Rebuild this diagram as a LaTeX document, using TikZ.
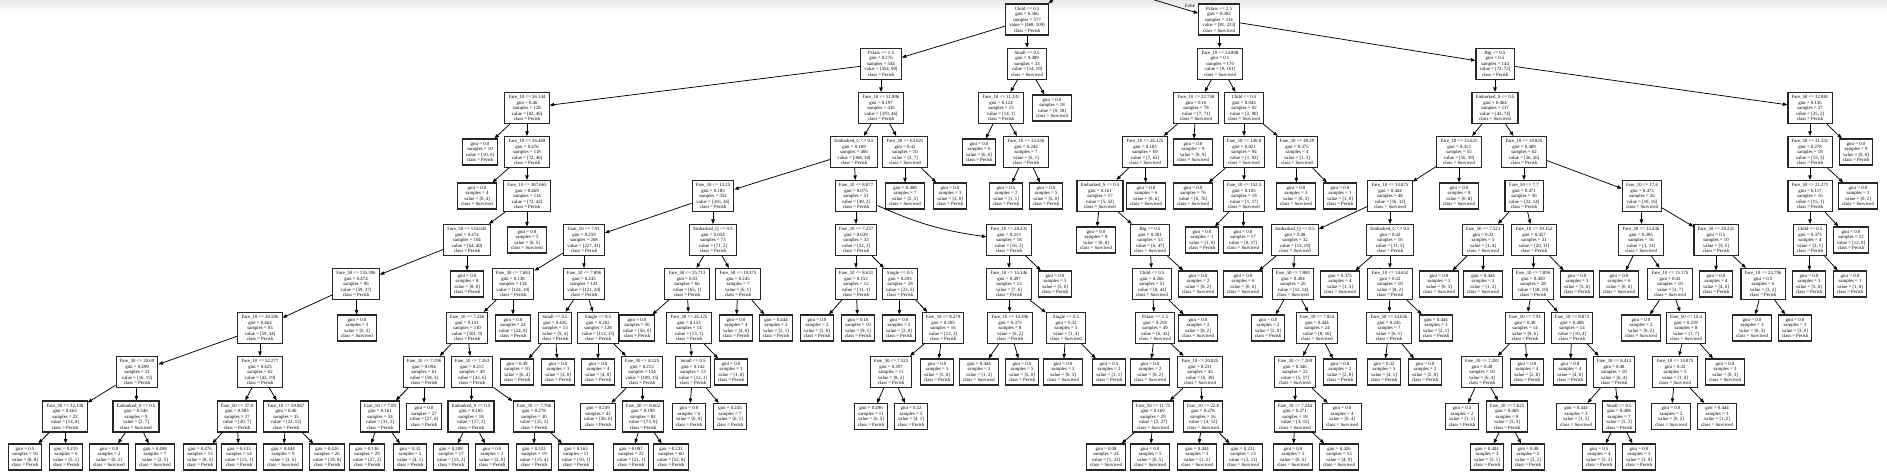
\documentclass[tikz,border=0pt]{standalone}
\usepackage{fontspec}
\setmainfont{Liberation Serif}
\usetikzlibrary{arrows.meta}
\newcommand{\tfont}{\fontsize{4.8}{5.5}\selectfont}
\newcommand{\tnode}[8]{\node[tn] (#1) at (#2,#3) {#4\\gini = #5\\samples = #6\\value = [#7]\\class = #8};}
\newcommand{\tleaf}[7]{\node[tl] (#1) at (#2,#3) {gini = #4\\samples = #5\\value = [#6]\\class = #7};}
\tikzset{
  tn/.style={draw=black!85, line width=1.1pt, fill=white, align=center, inner xsep=3.7pt, inner ysep=1.5pt, font=\tfont, minimum height=31pt},
  tl/.style={tn, minimum height=26pt},
  ed/.style={line width=0.75pt, -{Triangle[length=4.5pt,width=3.4pt]}},
  lbl/.style={font=\tfont, inner sep=0pt}
}
\begin{document}
\begin{tikzpicture}[x=1pt,y=-1pt]
\useasboundingbox (0,0) rectangle (1887,475);
\clip (0,0) rectangle (1887,475);
\fill[white] (0,0) rectangle (1887,475);
\shade[top color=black!9, bottom color=white] (0,0) rectangle (1887,12);
\coordinate (root) at (1082,-22);
% row 0
\tnode{A}{1027}{19.5}{Child <= 0.5}{0.306}{577}{468, 109}{Perish}
\tnode{B}{1219}{19.5}{Pclass <= 2.5}{0.383}{314}{81, 233}{Survived}
% row 1
\tnode{A1}{881}{63.7}{Pclass <= 1.5}{0.276}{544}{454, 90}{Perish}
\tnode{S1}{1027}{63.7}{Small <= 0.5}{0.489}{33}{14, 19}{Survived}
\tnode{F1}{1220}{63.7}{Fare\_10 <= 24.808}{0.1}{170}{9, 161}{Survived}
\tnode{G1}{1495}{63.7}{Big <= 0.5}{0.5}{144}{72, 72}{Perish}
% row 2
\tnode{na}{527}{108}{Fare\_10 <= 26.144}{0.46}{128}{82, 46}{Perish}
\tnode{c2a}{881}{108}{Fare\_10 <= 51.896}{0.197}{416}{370, 46}{Perish}
\tnode{c2b}{1001}{108}{Fare\_10 <= 31.331}{0.124}{15}{14, 1}{Perish}
\tleaf{l2a}{1052}{108}{0.0}{18}{0, 18}{Survived}
\tnode{c2c}{1196}{108}{Fare\_10 <= 22.758}{0.16}{78}{7, 71}{Survived}
\tnode{c2d}{1244}{108}{Child <= 0.5}{0.043}{92}{2, 90}{Survived}
\tnode{c2e}{1495}{108}{Embarked\_S <= 0.5}{0.464}{117}{43, 74}{Survived}
\tnode{c2f}{1810}{108}{Fare\_50 <= 32.881}{0.136}{27}{25, 2}{Perish}
% row 3
\tleaf{l3a}{480}{152}{0.0}{10}{10, 0}{Perish}
\tnode{c3a}{527}{152}{Fare\_10 <= 26.469}{0.476}{118}{72, 46}{Perish}
\tnode{c3b}{854}{152}{Embarked\_C <= 0.5}{0.169}{406}{368, 38}{Perish}
\tnode{c3c}{905}{152}{Fare\_50 <= 63.021}{0.42}{10}{3, 7}{Survived}
\tleaf{l3b}{979}{152}{0.0}{6}{6, 0}{Perish}
\tnode{c3d}{1026}{152}{Fare\_10 <= 33.556}{0.245}{7}{6, 1}{Perish}
\tnode{c3e}{1145}{152}{Fare\_10 <= 26.125}{0.183}{69}{7, 62}{Survived}
\tleaf{l3c}{1193}{152}{0.0}{9}{0, 9}{Survived}
\tnode{c3f}{1244}{152}{Fare\_10 <= 149.8}{0.021}{94}{1, 93}{Survived}
\tnode{c3g}{1297}{152}{Fare\_10 <= 49.29}{0.375}{4}{1, 3}{Survived}
\tnode{c3h}{1459}{152}{Fare\_10 <= 15.621}{0.413}{55}{16, 39}{Survived}
\tnode{c3i}{1524}{152}{Fare\_10 <= 10.825}{0.489}{62}{36, 26}{Perish}
\tnode{c3j}{1810}{152}{Fare\_50 <= 31.331}{0.278}{18}{15, 3}{Perish}
\tleaf{l3d}{1856}{152}{0.0}{9}{9, 0}{Perish}
% row 4
\tleaf{l4a}{477}{196}{0.0}{4}{0, 4}{Survived}
\tnode{c4a}{527}{196}{Fare\_10 <= 387.665}{0.469}{114}{72, 42}{Perish}
\tnode{c4b}{713}{196}{Fare\_10 <= 13.25}{0.183}{352}{316, 36}{Perish}
\tnode{c4c}{856}{196}{Fare\_10 <= 8.077}{0.075}{51}{49, 2}{Perish}
\tleaf{l4b}{905}{196}{0.408}{7}{2, 5}{Survived}
\tleaf{l4c}{950}{196}{0.0}{3}{3, 0}{Perish}
\tleaf{l4d}{1006}{196}{0.5}{2}{1, 1}{Perish}
\tleaf{l4e}{1046}{196}{0.0}{5}{5, 0}{Perish}
\tnode{c4d}{1100}{196}{Embarked\_S <= 0.5}{0.161}{57}{5, 52}{Survived}
\tleaf{l4f}{1146}{196}{0.0}{6}{0, 6}{Survived}
\tleaf{l4g}{1193}{196}{0.0}{76}{0, 76}{Survived}
\tnode{c4e}{1244}{196}{Fare\_10 <= 152.5}{0.105}{18}{1, 17}{Survived}
\tleaf{l4h}{1296}{196}{0.0}{3}{0, 3}{Survived}
\tleaf{l4i}{1340}{196}{0.0}{1}{1, 0}{Perish}
\tnode{c4f}{1390}{196}{Fare\_10 <= 13.875}{0.444}{48}{16, 32}{Survived}
\tleaf{l4j}{1459}{196}{0.0}{8}{0, 8}{Survived}
\tnode{c4g}{1524}{196}{Fare\_50 <= 7.7}{0.471}{36}{22, 14}{Perish}
\tnode{c4h}{1642}{196}{Fare\_10 <= 17.6}{0.473}{26}{10, 16}{Survived}
\tnode{c4i}{1810}{196}{Fare\_50 <= 21.271}{0.117}{16}{15, 1}{Perish}
\tleaf{l4k}{1858}{196}{0.0}{2}{0, 2}{Survived}
% row 5
\tnode{c5a}{467}{240}{Fare\_50 <= 134.643}{0.474}{104}{64, 40}{Perish}
\tleaf{l5a}{527}{240}{0.0}{5}{0, 5}{Survived}
\tnode{c5b}{584}{240}{Fare\_10 <= 7.91}{0.259}{268}{227, 41}{Perish}
\tnode{c5c}{713}{240}{Embarked\_Q <= 0.5}{0.054}{73}{71, 2}{Perish}
\tnode{c5d}{856}{240}{Fare\_10 <= 7.237}{0.039}{33}{32, 1}{Perish}
\tnode{c5e}{1009}{240}{Fare\_10 <= 28.231}{0.213}{18}{16, 2}{Perish}
\tleaf{l5b}{1096}{240}{0.0}{8}{0, 8}{Survived}
\tnode{c5f}{1150}{240}{Big <= 0.5}{0.201}{53}{6, 47}{Survived}
\tleaf{l5c}{1202}{240}{0.0}{1}{1, 0}{Perish}
\tleaf{l5d}{1243}{240}{0.0}{17}{0, 17}{Survived}
\tnode{c5g}{1295}{240}{Embarked\_Q <= 0.5}{0.48}{32}{13, 19}{Survived}
\tnode{c5h}{1390}{240}{Embarked\_C <= 0.5}{0.42}{16}{11, 5}{Perish}
\tnode{c5i}{1483}{240}{Fare\_50 <= 7.523}{0.32}{5}{1, 4}{Survived}
\tnode{c5j}{1534}{240}{Fare\_10 <= 10.152}{0.457}{31}{20, 11}{Perish}
\tnode{c5k}{1641}{240}{Fare\_50 <= 13.436}{0.305}{16}{3, 13}{Survived}
\tnode{c5l}{1716}{240}{Fare\_50 <= 28.231}{0.5}{10}{5, 5}{Perish}
\tnode{c5m}{1810}{240}{Child <= 0.5}{0.375}{4}{3, 1}{Perish}
\tleaf{l5e}{1851}{240}{0.0}{12}{12, 0}{Perish}
% row 6
\tnode{c6a}{356}{284}{Fare\_50 <= 135.396}{0.474}{96}{59, 37}{Perish}
\tleaf{l6a}{467}{284}{0.0}{8}{8, 0}{Perish}
\tnode{c6b}{513}{284}{Fare\_50 <= 7.683}{0.138}{134}{124, 10}{Perish}
\tnode{c6c}{584}{284}{Fare\_10 <= 7.896}{0.245}{141}{121, 20}{Perish}
\tnode{c6d}{687}{284}{Fare\_50 <= 25.713}{0.03}{66}{65, 1}{Perish}
\tnode{c6e}{738}{284}{Fare\_50 <= 19.375}{0.245}{7}{6, 1}{Perish}
\tnode{c6f}{856}{284}{Fare\_10 <= 8.631}{0.153}{12}{11, 1}{Perish}
\tnode{c6g}{900}{284}{Single <= 0.5}{0.293}{28}{23, 5}{Perish}
\tnode{c6h}{1009}{284}{Fare\_10 <= 15.146}{0.497}{13}{7, 6}{Perish}
\tleaf{l6b}{1055}{284}{0.0}{5}{5, 0}{Perish}
\tnode{c6i}{1152}{284}{Child <= 0.5}{0.266}{51}{8, 43}{Survived}
\tleaf{l6c}{1198}{284}{0.0}{2}{0, 2}{Survived}
\tleaf{l6d}{1243}{284}{0.0}{6}{0, 6}{Survived}
\tnode{c6j}{1293}{284}{Fare\_50 <= 7.881}{0.494}{26}{12, 14}{Survived}
\tleaf{l6e}{1340}{284}{0.375}{4}{1, 3}{Survived}
\tnode{c6k}{1390}{284}{Fare\_10 <= 14.652}{0.32}{10}{8, 2}{Perish}
\tleaf{l6f}{1439}{284}{0.0}{3}{0, 3}{Survived}
\tleaf{l6g}{1483}{284}{0.444}{3}{1, 2}{Survived}
\tnode{c6l}{1533}{284}{Fare\_10 <= 7.896}{0.459}{28}{18, 10}{Perish}
\tleaf{l6h}{1577}{284}{0.0}{3}{3, 0}{Perish}
\tleaf{l6i}{1619}{284}{0.0}{6}{0, 6}{Survived}
\tnode{c6m}{1670}{284}{Fare\_10 <= 15.175}{0.42}{10}{3, 7}{Survived}
\tleaf{l6j}{1716}{284}{0.0}{4}{4, 0}{Perish}
\tnode{c6n}{1763}{284}{Fare\_10 <= 23.796}{0.5}{6}{3, 3}{Perish}
\tleaf{l6k}{1809}{284}{0.0}{3}{3, 0}{Perish}
\tleaf{l6l}{1850}{284}{0.0}{1}{1, 0}{Perish}
% row 7
\tnode{c7a}{260}{328}{Fare\_10 <= 30.596}{0.464}{93}{59, 34}{Perish}
\tleaf{l7a}{357}{328}{0.0}{3}{0, 3}{Survived}
\tnode{c7b}{467}{328}{Fare\_10 <= 7.246}{0.151}{110}{101, 9}{Perish}
\tleaf{l7b}{513}{328}{0.0}{24}{24, 0}{Perish}
\tnode{c7c}{555}{328}{Small <= 0.5}{0.426}{13}{9, 4}{Perish}
\tnode{c7d}{598}{328}{Single <= 0.5}{0.202}{128}{113, 15}{Perish}
\tleaf{l7c}{637}{328}{0.0}{56}{56, 0}{Perish}
\tnode{c7e}{689}{328}{Fare\_50 <= 26.125}{0.133}{14}{13, 1}{Perish}
\tleaf{l7d}{736}{328}{0.0}{4}{4, 0}{Perish}
\tleaf{l7e}{776}{328}{0.444}{3}{2, 1}{Perish}
\tleaf{l7f}{817}{328}{0.0}{2}{2, 0}{Perish}
\tleaf{l7g}{858}{328}{0.18}{10}{9, 1}{Perish}
\tleaf{l7h}{899}{328}{0.0}{2}{2, 0}{Perish}
\tnode{c7f}{943}{328}{Fare\_10 <= 8.279}{0.305}{16}{13, 3}{Perish}
\tnode{c7g}{1010}{328}{Fare\_10 <= 14.196}{0.375}{8}{6, 2}{Perish}
\tnode{c7h}{1066}{328}{Single <= 0.5}{0.32}{5}{1, 4}{Survived}
\tnode{c7i}{1155}{328}{Pclass <= 1.5}{0.219}{49}{6, 43}{Survived}
\tleaf{l7i}{1198}{328}{0.0}{2}{0, 2}{Survived}
\tleaf{l7j}{1268}{328}{0.0}{2}{2, 0}{Perish}
\tnode{c7j}{1317}{328}{Fare\_10 <= 7.854}{0.444}{24}{8, 16}{Survived}
\tnode{c7k}{1389}{328}{Fare\_50 <= 14.656}{0.245}{7}{6, 1}{Perish}
\tleaf{l7k}{1436}{328}{0.444}{3}{2, 1}{Perish}
\tnode{c7l}{1525}{328}{Fare\_50 <= 7.91}{0.49}{14}{8, 6}{Perish}
\tnode{c7m}{1572}{328}{Fare\_10 <= 8.873}{0.408}{14}{10, 4}{Perish}
\tleaf{l7l}{1641}{328}{0.0}{2}{0, 2}{Survived}
\tnode{c7n}{1686}{328}{Fare\_50 <= 15.4}{0.219}{8}{1, 7}{Survived}
\tleaf{l7m}{1752}{328}{0.0}{3}{0, 3}{Survived}
\tleaf{l7n}{1795}{328}{0.0}{3}{3, 0}{Perish}
% row 8
\tnode{c8a}{137}{372}{Fare\_50 <= 39.69}{0.499}{31}{16, 15}{Perish}
\tnode{c8b}{260}{372}{Fare\_10 <= 52.277}{0.425}{62}{43, 19}{Perish}
\tnode{c8c}{424}{372}{Fare\_10 <= 7.196}{0.094}{61}{58, 3}{Perish}
\tnode{c8d}{472}{372}{Fare\_10 <= 7.263}{0.215}{49}{43, 6}{Perish}
\tleaf{l8a}{517}{372}{0.49}{10}{6, 4}{Perish}
\tleaf{l8b}{558}{372}{0.0}{3}{3, 0}{Perish}
\tleaf{l8c}{598}{372}{0.0}{4}{4, 0}{Perish}
\tnode{c8e}{642}{372}{Fare\_50 <= 8.125}{0.213}{124}{109, 15}{Perish}
\tnode{c8f}{693}{372}{Small <= 0.5}{0.142}{13}{12, 1}{Perish}
\tleaf{l8d}{731}{372}{0.0}{1}{1, 0}{Perish}
\tnode{c8g}{891}{372}{Fare\_50 <= 7.523}{0.397}{11}{8, 3}{Perish}
\tleaf{l8e}{937}{372}{0.0}{5}{5, 0}{Perish}
\tleaf{l8f}{979}{372}{0.444}{3}{1, 2}{Survived}
\tleaf{l8g}{1022}{372}{0.0}{5}{5, 0}{Perish}
\tleaf{l8h}{1063}{372}{0.0}{3}{0, 3}{Survived}
\tleaf{l8i}{1109}{372}{0.5}{2}{1, 1}{Perish}
\tleaf{l8j}{1150}{372}{0.0}{2}{0, 2}{Survived}
\tnode{c8h}{1200}{372}{Fare\_10 <= 20.825}{0.231}{45}{6, 39}{Survived}
\tnode{c8i}{1295}{372}{Fare\_10 <= 7.269}{0.346}{22}{5, 17}{Survived}
\tleaf{l8k}{1340}{372}{0.0}{2}{2, 0}{Perish}
\tleaf{l8l}{1384}{372}{0.32}{5}{4, 1}{Perish}
\tleaf{l8m}{1425}{372}{0.0}{2}{2, 0}{Perish}
\tnode{c8j}{1482}{372}{Fare\_10 <= 7.281}{0.48}{10}{6, 4}{Perish}
\tleaf{l8n}{1527}{372}{0.0}{4}{2, 0}{Perish}
\tleaf{l8o}{1570}{372}{0.0}{4}{4, 0}{Perish}
\tnode{c8k}{1614}{372}{Fare\_10 <= 8.413}{0.48}{10}{6, 4}{Perish}
\tnode{c8l}{1675}{372}{Fare\_10 <= 15.875}{0.32}{5}{1, 4}{Survived}
\tleaf{l8p}{1725}{372}{0.0}{3}{0, 3}{Survived}
% row 9
\tnode{c9a}{65}{416.5}{Fare\_50 <= 32.138}{0.463}{22}{14, 8}{Perish}
\tnode{c9b}{136}{416.5}{Embarked\_S <= 0.5}{0.346}{9}{2, 7}{Survived}
\tnode{c9c}{237}{416.5}{Fare\_50 <= 37.8}{0.383}{27}{20, 7}{Perish}
\tnode{c9d}{286}{416.5}{Fare\_10 <= 59.867}{0.46}{35}{23, 12}{Perish}
\tnode{c9e}{380}{416.5}{Fare\_10 <= 7.09}{0.161}{34}{31, 3}{Perish}
\tleaf{l9a}{424}{416.5}{0.0}{27}{27, 0}{Perish}
\tnode{c9f}{471}{416.5}{Embarked\_S <= 0.5}{0.105}{18}{17, 1}{Perish}
\tnode{c9g}{534}{416.5}{Fare\_10 <= 7.796}{0.278}{30}{25, 5}{Perish}
\tleaf{l9b}{598}{416.5}{0.249}{42}{36, 6}{Perish}
\tnode{c9h}{643}{416.5}{Fare\_50 <= 8.662}{0.199}{82}{73, 9}{Perish}
\tleaf{l9c}{689}{416.5}{0.0}{6}{6, 0}{Perish}
\tleaf{l9d}{730}{416.5}{0.245}{7}{6, 1}{Perish}
\tleaf{l9e}{871}{416.5}{0.496}{11}{6, 5}{Perish}
\tleaf{l9f}{911}{416.5}{0.32}{5}{4, 1}{Perish}
\tnode{c9i}{1153}{416.5}{Fare\_50 <= 11.75}{0.169}{29}{2, 27}{Survived}
\tnode{c9j}{1203}{416.5}{Fare\_10 <= 22.8}{0.278}{16}{4, 12}{Survived}
\tnode{c9k}{1295}{416.5}{Fare\_10 <= 7.244}{0.271}{18}{3, 15}{Survived}
\tleaf{l9g}{1342}{416.5}{0.0}{4}{0, 4}{Survived}
\tleaf{l9h}{1462}{416.5}{0.5}{2}{1, 1}{Perish}
\tnode{c9l}{1507}{416.5}{Fare\_10 <= 7.625}{0.469}{8}{5, 3}{Perish}
\tleaf{l9i}{1576}{416.5}{0.444}{3}{1, 2}{Survived}
\tnode{c9m}{1619}{416.5}{Small <= 0.5}{0.408}{7}{5, 2}{Perish}
\tleaf{l9j}{1671}{416.5}{0.0}{2}{0, 2}{Survived}
\tleaf{l9k}{1717}{416.5}{0.444}{3}{1, 2}{Survived}
% row 10
\tleaf{t1}{25}{457}{0.5}{16}{8, 8}{Perish}
\tleaf{t2}{66}{457}{0.219}{6}{5, 1}{Perish}
\tleaf{t3}{109}{457}{0.0}{2}{0, 2}{Survived}
\tleaf{t4}{155}{457}{0.408}{7}{2, 5}{Survived}
\tleaf{t5}{200}{457}{0.476}{13}{8, 5}{Perish}
\tleaf{t6}{239}{457}{0.133}{14}{13, 1}{Perish}
\tleaf{t7}{283}{457}{0.444}{9}{3, 6}{Survived}
\tleaf{t8}{327}{457}{0.426}{26}{18, 8}{Perish}
\tleaf{t9}{367}{457}{0.136}{29}{27, 2}{Perish}
\tleaf{t10}{410}{457}{0.32}{5}{4, 1}{Perish}
\tleaf{t11}{451}{457}{0.208}{17}{15, 2}{Perish}
\tleaf{t12}{492}{457}{0.0}{2}{2, 0}{Perish}
\tleaf{t13}{534}{457}{0.332}{19}{15, 4}{Perish}
\tleaf{t14}{576}{457}{0.165}{11}{10, 1}{Perish}
\tleaf{t15}{631}{457}{0.087}{22}{21, 1}{Perish}
\tleaf{t16}{671}{457}{0.231}{60}{52, 8}{Perish}
\tleaf{t17}{1106}{457}{0.08}{24}{1, 23}{Survived}
\tleaf{t18}{1150}{457}{0.0}{5}{0, 5}{Survived}
\tleaf{t19}{1197}{457}{0.444}{3}{1, 2}{Survived}
\tleaf{t20}{1243}{457}{0.231}{13}{2, 11}{Survived}
\tleaf{t21}{1293}{457}{0.0}{5}{0, 5}{Survived}
\tleaf{t22}{1339}{457}{0.426}{13}{4, 9}{Survived}
\tleaf{t23}{1487}{457}{0.444}{3}{2, 1}{Perish}
\tleaf{t24}{1528}{457}{0.48}{5}{3, 2}{Perish}
\tleaf{t25}{1599}{457}{0.5}{4}{2, 2}{Perish}
\tleaf{t26}{1639}{457}{0.0}{3}{3, 0}{Perish}
% label
\node[lbl] (lf) at (1190,6) {False};
% edges
\draw[ed] (root) -- (A); \draw[ed] (root) -- (B);
\draw[ed] (A) -- (A1); \draw[ed] (A) -- (S1);
\draw[ed] (B) -- (F1); \draw[ed] (B) -- (G1);
\draw[ed] (A1) -- (na); \draw[ed] (A1) -- (c2a);
\draw[ed] (S1) -- (c2b); \draw[ed] (S1) -- (l2a);
\draw[ed] (F1) -- (c2c); \draw[ed] (F1) -- (c2d);
\draw[ed] (G1) -- (c2e); \draw[ed] (G1) -- (c2f);
\draw[ed] (na) -- (l3a); \draw[ed] (na) -- (c3a);
\draw[ed] (c2a) -- (c3b); \draw[ed] (c2a) -- (c3c);
\draw[ed] (c2b) -- (l3b); \draw[ed] (c2b) -- (c3d);
\draw[ed] (c2c) -- (c3e); \draw[ed] (c2c) -- (l3c);
\draw[ed] (c2d) -- (c3f); \draw[ed] (c2d) -- (c3g);
\draw[ed] (c2e) -- (c3h); \draw[ed] (c2e) -- (c3i);
\draw[ed] (c2f) -- (c3j); \draw[ed] (c2f) -- (l3d);
\draw[ed] (c3a) -- (l4a); \draw[ed] (c3a) -- (c4a);
\draw[ed] (c3b) -- (c4b); \draw[ed] (c3b) -- (c4c);
\draw[ed] (c3c) -- (l4b); \draw[ed] (c3c) -- (l4c);
\draw[ed] (c3d) -- (l4d); \draw[ed] (c3d) -- (l4e);
\draw[ed] (c3e) -- (c4d); \draw[ed] (c3e) -- (l4f);
\draw[ed] (c3f) -- (l4g); \draw[ed] (c3f) -- (c4e);
\draw[ed] (c3g) -- (l4h); \draw[ed] (c3g) -- (l4i);
\draw[ed] (c3h) -- (c4f); \draw[ed] (c3h) -- (l4j);
\draw[ed] (c3i) -- (c4g); \draw[ed] (c3i) -- (c4h);
\draw[ed] (c3j) -- (c4i); \draw[ed] (c3j) -- (l4k);
\draw[ed] (c4a) -- (c5a); \draw[ed] (c4a) -- (l5a);
\draw[ed] (c4b) -- (c5b); \draw[ed] (c4b) -- (c5c);
\draw[ed] (c4c) -- (c5d); \draw[ed] (c4c) to[bend right=8] (c5e);
\draw[ed] (c4d) -- (l5b); \draw[ed] (c4d) -- (c5f);
\draw[ed] (c4e) -- (l5c); \draw[ed] (c4e) -- (l5d);
\draw[ed] (c4f) -- (c5g); \draw[ed] (c4f) -- (c5h);
\draw[ed] (c4g) -- (c5i); \draw[ed] (c4g) -- (c5j);
\draw[ed] (c4h) -- (c5k); \draw[ed] (c4h) -- (c5l);
\draw[ed] (c4i) -- (c5m); \draw[ed] (c4i) -- (l5e);
\draw[ed] (c5a) -- (c6a); \draw[ed] (c5a) -- (l6a);
\draw[ed] (c5b) -- (c6b); \draw[ed] (c5b) -- (c6c);
\draw[ed] (c5c) -- (c6d); \draw[ed] (c5c) -- (c6e);
\draw[ed] (c5d) -- (c6f); \draw[ed] (c5d) -- (c6g);
\draw[ed] (c5e) -- (c6h); \draw[ed] (c5e) -- (l6b);
\draw[ed] (c5f) -- (c6i); \draw[ed] (c5f) -- (l6c);
\draw[ed] (c5g) -- (l6d); \draw[ed] (c5g) -- (c6j);
\draw[ed] (c5h) -- (l6e); \draw[ed] (c5h) -- (c6k);
\draw[ed] (c5i) -- (l6f); \draw[ed] (c5i) -- (l6g);
\draw[ed] (c5j) -- (c6l); \draw[ed] (c5j) -- (l6h);
\draw[ed] (c5k) -- (l6i); \draw[ed] (c5k) -- (c6m);
\draw[ed] (c5l) -- (l6j); \draw[ed] (c5l) -- (c6n);
\draw[ed] (c5m) -- (l6k); \draw[ed] (c5m) -- (l6l);
\draw[ed] (c6a) -- (c7a); \draw[ed] (c6a) -- (l7a);
\draw[ed] (c6b) -- (c7b); \draw[ed] (c6b) -- (l7b);
\draw[ed] (c6c) -- (c7c); \draw[ed] (c6c) -- (c7d);
\draw[ed] (c6d) -- (l7c); \draw[ed] (c6d) -- (c7e);
\draw[ed] (c6e) -- (l7d); \draw[ed] (c6e) -- (l7e);
\draw[ed] (c6f) -- (l7f); \draw[ed] (c6f) -- (l7g);
\draw[ed] (c6g) -- (l7h); \draw[ed] (c6g) -- (c7f);
\draw[ed] (c6h) -- (c7g); \draw[ed] (c6h) -- (c7h);
\draw[ed] (c6i) -- (c7i); \draw[ed] (c6i) -- (l7i);
\draw[ed] (c6j) -- (l7j); \draw[ed] (c6j) -- (c7j);
\draw[ed] (c6k) -- (c7k); \draw[ed] (c6k) -- (l7k);
\draw[ed] (c6l) -- (c7l); \draw[ed] (c6l) -- (c7m);
\draw[ed] (c6m) -- (l7l); \draw[ed] (c6m) -- (c7n);
\draw[ed] (c6n) -- (l7m); \draw[ed] (c6n) -- (l7n);
\draw[ed] (c7a) -- (c8a); \draw[ed] (c7a) -- (c8b);
\draw[ed] (c7b) -- (c8c); \draw[ed] (c7b) -- (c8d);
\draw[ed] (c7c) -- (l8a); \draw[ed] (c7c) -- (l8b);
\draw[ed] (c7d) -- (l8c); \draw[ed] (c7d) -- (c8e);
\draw[ed] (c7e) -- (c8f); \draw[ed] (c7e) -- (l8d);
\draw[ed] (c7f) -- (c8g); \draw[ed] (c7f) -- (l8e);
\draw[ed] (c7g) -- (l8f); \draw[ed] (c7g) -- (l8g);
\draw[ed] (c7h) -- (l8h); \draw[ed] (c7h) -- (l8i);
\draw[ed] (c7i) -- (l8j); \draw[ed] (c7i) -- (c8h);
\draw[ed] (c7j) -- (c8i); \draw[ed] (c7j) -- (l8k);
\draw[ed] (c7k) -- (l8l); \draw[ed] (c7k) -- (l8m);
\draw[ed] (c7l) -- (c8j); \draw[ed] (c7l) -- (l8n);
\draw[ed] (c7m) -- (l8o); \draw[ed] (c7m) -- (c8k);
\draw[ed] (c7n) -- (c8l); \draw[ed] (c7n) -- (l8p);
\draw[ed] (c8a) -- (c9a); \draw[ed] (c8a) -- (c9b);
\draw[ed] (c8b) -- (c9c); \draw[ed] (c8b) -- (c9d);
\draw[ed] (c8c) -- (c9e); \draw[ed] (c8c) -- (l9a);
\draw[ed] (c8d) -- (c9f); \draw[ed] (c8d) -- (c9g);
\draw[ed] (c8e) -- (l9b); \draw[ed] (c8e) -- (c9h);
\draw[ed] (c8f) -- (l9c); \draw[ed] (c8f) -- (l9d);
\draw[ed] (c8g) -- (l9e); \draw[ed] (c8g) -- (l9f);
\draw[ed] (c8h) -- (c9i); \draw[ed] (c8h) -- (c9j);
\draw[ed] (c8i) -- (c9k); \draw[ed] (c8i) -- (l9g);
\draw[ed] (c8j) -- (l9h); \draw[ed] (c8j) -- (c9l);
\draw[ed] (c8k) -- (l9i); \draw[ed] (c8k) -- (c9m);
\draw[ed] (c8l) -- (l9j); \draw[ed] (c8l) -- (l9k);
\draw[ed] (c9a) -- (t1); \draw[ed] (c9a) -- (t2);
\draw[ed] (c9b) -- (t3); \draw[ed] (c9b) -- (t4);
\draw[ed] (c9c) -- (t5); \draw[ed] (c9c) -- (t6);
\draw[ed] (c9d) -- (t7); \draw[ed] (c9d) -- (t8);
\draw[ed] (c9e) -- (t9); \draw[ed] (c9e) -- (t10);
\draw[ed] (c9f) -- (t11); \draw[ed] (c9f) -- (t12);
\draw[ed] (c9g) -- (t13); \draw[ed] (c9g) -- (t14);
\draw[ed] (c9h) -- (t15); \draw[ed] (c9h) -- (t16);
\draw[ed] (c9i) -- (t17); \draw[ed] (c9i) -- (t18);
\draw[ed] (c9j) -- (t19); \draw[ed] (c9j) -- (t20);
\draw[ed] (c9k) -- (t21); \draw[ed] (c9k) -- (t22);
\draw[ed] (c9l) -- (t23); \draw[ed] (c9l) -- (t24);
\draw[ed] (c9m) -- (t25); \draw[ed] (c9m) -- (t26);
\end{tikzpicture}
\end{document}
